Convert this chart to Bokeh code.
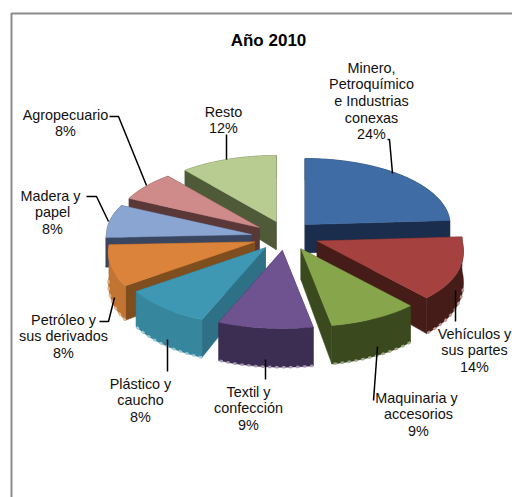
import numpy as np
from bokeh.plotting import figure
from bokeh.models import Range1d, ColumnDataSource
from bokeh.core.properties import value
from bokeh.embed import file_html
from bokeh.resources import INLINE

# ---- data
title = "Año 2010"
categories = [["Minero,", "Petroquímico", "e Industrias", "conexas"], ["Vehículos y", "sus partes"],
              ["Maquinaria  y", "accesorios"], ["Textil y", "confección"], ["Plástico y", "caucho"],
              ["Petróleo y", "sus derivados"], ["Madera  y", "papel"], ["Agropecuario"], ["Resto"]]
shares = [24, 14, 9, 9, 8, 8, 8, 8, 12]

# ---- style
top_colors = ["#3F6CA4", "#A54240", "#87A64C", "#6F5390", "#3E98B3", "#DB833B", "#8BA5D2", "#CE8B8A", "#B8CC92"]
cut_colors = ["#1A2D4C", "#451C18", "#3B4A1E", "#3C2D52", "#2E7187", "#7F4E1E", "#3A4560", "#5A3838", "#4E5A38"]
rim_colors = ["#1A2D4C", "#451C18", "#3B4A1E", "#3C2D52", "#36869E", "#C27432", "#3A4560", "#5A3838", "#4E5A38"]
edge_colors = ["#9AA5B5", "#B89898", "#A0AB8A", "#A89BB5", "#9CCBD8", "#E0B890", "#9AA5B5", "#B89898", "#A0AB8A"]

# ---- layout (reference pixels)
CX, CY, RX, RY_BACK, RY_FRONT, EX, EY = 285, 235, 145, 66, 78, 34, 15
label_pos = [(371, 67), (474, 333), (418, 397), (248, 391), (140, 383), (63, 319), (52, 195), (65, 114), (223, 111)]
line_h = 16.7
leaders = [([387, 389, 392], [139, 139, 173]), ([455, 455], [290, 321]), ([377, 373], [346, 400]),
           ([265, 265], [359, 379]), ([167, 167], [339, 371]), ([99, 108, 114], [321, 321, 297]),
           ([86, 96, 108], [196, 196, 221]), ([109, 118, 146], [116, 116, 185]), ([226, 226], [134, 159])]


def project(th, ax, ay):
    """3-D view of the pie: angles on the left are pulled back, the front is widened."""
    t = th + np.radians(9) * np.where(th > np.pi, np.sin(th - np.pi) ** 2, 0)
    c = np.cos(t)
    widen = 1 + 0.14 * np.maximum(-c, 0)
    return ax + RX * np.sin(t) * widen, ay - np.where(c >= 0, RY_BACK, RY_FRONT) * c


def drop(y):
    return y + 28 + 0.1 * (y - 220)


p = figure(width=512, height=497, x_range=Range1d(0, 512), y_range=Range1d(497, 0),
           x_axis_location=None, y_axis_location=None, toolbar_location=None,
           output_backend="svg", min_border=0, outline_line_color=None, background_fill_color="white")
p.grid.visible = False

p.line([11, 11, 512], [497, 13, 13], line_color="#8C8C8C", line_width=2)

edges = np.cumsum([0] + shares) / sum(shares) * 2 * np.pi
order = [-np.cos((edges[i] + edges[i + 1]) / 2) for i in range(len(shares))]
xs, ys, fills = [], [], []
bx, by, bc = [], [], []
for i in np.argsort(order):
    a, b = edges[i], edges[i + 1]
    mid = (a + b) / 2
    narrow = 1 - 0.3 * max(np.cos(mid), 0) ** 2
    ax = CX + EX * narrow * np.sin(mid)
    ay = CY - EY * np.cos(mid)
    th = np.linspace(a, b, 40)
    arc_x, arc_y = project(th, ax, ay)
    # radial cut faces and outer wall, painted back to front
    quads = [
        (np.array([ax, arc_x[0], arc_x[0], ax]), np.array([ay, arc_y[0], drop(arc_y[0]), drop(ay)]), cut_colors[i]),
        (np.array([ax, arc_x[-1], arc_x[-1], ax]), np.array([ay, arc_y[-1], drop(arc_y[-1]), drop(ay)]), cut_colors[i]),
        (np.r_[arc_x, arc_x[::-1]], np.r_[arc_y, drop(arc_y)[::-1]], rim_colors[i]),
    ]
    quads.sort(key=lambda q: q[1].mean())
    for qx, qy, c in quads:
        xs.append(qx.tolist()); ys.append(qy.tolist()); fills.append(c)
    xs.append(np.r_[ax, arc_x].tolist()); ys.append(np.r_[ay, arc_y].tolist()); fills.append(top_colors[i])
    front = np.cos(th) < -0.2
    if front.any():
        bx.append(arc_x[front].tolist()); by.append((drop(arc_y[front])).tolist()); bc.append(edge_colors[i])

p.patches("xs", "ys", source=ColumnDataSource(dict(xs=xs, ys=ys, c=fills)), fill_color="c", line_color="c", line_width=0.5)
p.multi_line("xs", "ys", source=ColumnDataSource(dict(xs=bx, ys=by, c=bc)), line_color="c", line_width=2.5, line_dash="3 4")

for (lx, ly) in leaders:
    p.line(lx, ly, line_color="black", line_width=1.5)

tx, ty, tt = [], [], []
for cat, share, (x0, y0) in zip(categories, shares, label_pos):
    for k, s in enumerate(cat + [f"{share}%"]):
        tx.append(x0); ty.append(y0 + k * line_h); tt.append(s)
p.text("x", "y", text="t", source=ColumnDataSource(dict(x=tx, y=ty, t=tt)), text_font=value("Liberation Sans"),
       text_font_size="14.4px", text_align="center", text_baseline="middle", text_color="#111111")
p.text([268], [40], text=[title], text_font=value("Liberation Sans"), text_font_style="bold",
       text_font_size="17px", text_align="center", text_baseline="middle", text_color="black")

open("out.html", "w").write(file_html(p, INLINE))
